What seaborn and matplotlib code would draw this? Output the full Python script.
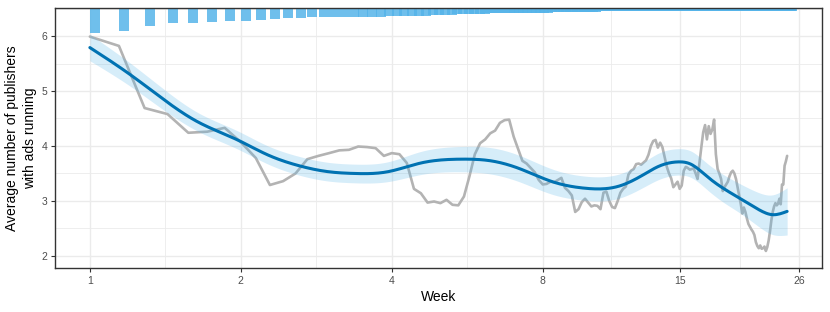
import numpy as np
import pandas as pd
import matplotlib
matplotlib.use("Agg")
import matplotlib.pyplot as plt
import seaborn as sns

# days since signup (7 = end of week 1)
day = list(range(7, 173))

avg_publishers = [
    5.99, 5.82, 4.69, 4.58, 4.24, 4.26, 4.33, 4.07, 3.78, 3.29,
    3.36, 3.50, 3.76, 3.82, 3.87, 3.92, 3.93, 3.99, 3.98, 3.96,
    3.82, 3.87, 3.85, 3.69, 3.22, 3.14, 2.97, 2.99, 2.96, 3.02,
    2.93, 2.92, 3.08, 3.45, 3.85, 4.05, 4.12, 4.23, 4.28, 4.42,
    4.47, 4.48, 4.17, 3.95, 3.73, 3.68, 3.60, 3.52, 3.38, 3.30,
    3.31, 3.35, 3.34, 3.38, 3.42, 3.24, 3.18, 3.10, 2.80, 2.85,
    2.98, 3.04, 2.97, 2.90, 2.92, 2.91, 2.85, 3.15, 3.17, 3.00,
    2.89, 2.87, 3.00, 3.15, 3.22, 3.26, 3.48, 3.55, 3.58, 3.67,
    3.68, 3.66, 3.70, 3.74, 3.84, 4.00, 4.09, 4.11, 3.97, 4.06,
    3.98, 3.80, 3.62, 3.50, 3.41, 3.25, 3.30, 3.35, 3.22, 3.28,
    3.55, 3.62, 3.60, 3.57, 3.58, 3.59, 3.50, 3.40, 3.70, 3.98,
    4.25, 4.38, 4.12, 4.36, 4.22, 4.30, 4.48, 3.85, 3.58, 3.50,
    3.40, 3.18, 3.25, 3.30, 3.35, 3.45, 3.52, 3.55, 3.50, 3.40,
    3.25, 3.10, 2.95, 2.77, 2.88, 2.80, 2.68, 2.58, 2.53, 2.48,
    2.44, 2.38, 2.25, 2.18, 2.14, 2.19, 2.13, 2.14, 2.17, 2.09,
    2.16, 2.28, 2.45, 2.65, 2.80, 2.90, 2.96, 2.92, 2.95, 3.04,
    2.94, 3.30, 3.30, 3.64, 3.72, 3.82,
]

# lower end of the bars hanging from the top of the panel
bar_low = [
    6.055, 6.096, 6.187, 6.231, 6.242, 6.255, 6.267, 6.273, 6.285, 6.309,
    6.322, 6.333, 6.340, 6.341, 6.343, 6.345, 6.348, 6.350, 6.352, 6.355,
    6.358, 6.360, 6.363, 6.366, 6.369, 6.373, 6.377, 6.381, 6.385, 6.390,
    6.395, 6.400, 6.403, 6.405, 6.407, 6.409, 6.410, 6.411, 6.412, 6.413,
    6.413, 6.414, 6.415, 6.416, 6.418, 6.420, 6.422, 6.424, 6.426, 6.428,
    6.430, 6.432, 6.434, 6.436, 6.438, 6.440, 6.441, 6.442, 6.443, 6.444,
    6.445, 6.445, 6.446, 6.446, 6.447, 6.447, 6.448, 6.448, 6.449, 6.449,
    6.450, 6.450, 6.451, 6.451, 6.452, 6.452, 6.453, 6.453, 6.454, 6.454,
    6.455, 6.455, 6.455, 6.455, 6.456, 6.456, 6.456, 6.456, 6.456, 6.456,
    6.457, 6.457, 6.457, 6.457, 6.457, 6.457, 6.457, 6.457, 6.458, 6.458,
    6.458, 6.458, 6.458, 6.458, 6.458, 6.458, 6.458, 6.458, 6.458, 6.458,
    6.459, 6.459, 6.459, 6.459, 6.459, 6.459, 6.459, 6.459, 6.459, 6.459,
    6.459, 6.459, 6.459, 6.459, 6.459, 6.459, 6.459, 6.459, 6.459, 6.459,
    6.460, 6.460, 6.460, 6.460, 6.460, 6.460, 6.460, 6.460, 6.460, 6.460,
    6.460, 6.460, 6.460, 6.460, 6.460, 6.460, 6.460, 6.460, 6.460, 6.460,
    6.460, 6.460, 6.460, 6.460, 6.460, 6.460, 6.460, 6.460, 6.460, 6.460,
    6.460, 6.460, 6.460, 6.460, 6.460, 6.460,
]

# smoothed trend (geom_smooth style) and half width of its 95% band
smooth_week = [1.0, 1.207, 1.406, 1.64, 1.97, 2.26, 2.59, 3.0, 3.36, 3.92, 4.57, 5.49, 6.30, 7.18,
               8.36, 9.75, 10.52, 11.36, 12.83, 13.55, 14.85, 15.78, 17.04, 18.11, 20.01, 21.59,
               22.96, 24.57]
smooth_fit = [5.79, 5.29, 4.84, 4.44, 4.11, 3.84, 3.65, 3.53, 3.50, 3.53, 3.69, 3.76, 3.73, 3.59,
              3.35, 3.23, 3.22, 3.27, 3.50, 3.62, 3.71, 3.67, 3.44, 3.26, 3.02, 2.84, 2.75, 2.81]
smooth_half = [0.24, 0.21, 0.19, 0.17, 0.165, 0.165, 0.17, 0.17, 0.17, 0.18, 0.21, 0.23, 0.24, 0.24,
               0.23, 0.22, 0.22, 0.22, 0.23, 0.24, 0.24, 0.24, 0.24, 0.25, 0.27, 0.31, 0.36, 0.43]

week_breaks = [1, 2, 4, 8, 15, 26]
y_breaks = [2, 3, 4, 5, 6]

df = pd.DataFrame({"day": day, "avg": avg_publishers, "bar_low": bar_low})
df["week"] = df["day"] / 7


def natural_spline(x, y, xg):
    # natural cubic spline, only used to draw the smooth between the readings
    x = np.asarray(x, float)
    y = np.asarray(y, float)
    n = len(x)
    h = np.diff(x)
    A = np.zeros((n, n))
    r = np.zeros(n)
    A[0, 0] = A[-1, -1] = 1
    for i in range(1, n - 1):
        A[i, i - 1] = h[i - 1]
        A[i, i] = 2 * (h[i - 1] + h[i])
        A[i, i + 1] = h[i]
        r[i] = 3 * ((y[i + 1] - y[i]) / h[i] - (y[i] - y[i - 1]) / h[i - 1])
    c = np.linalg.solve(A, r)
    b = (y[1:] - y[:-1]) / h - h * (2 * c[:-1] + c[1:]) / 3
    d = (c[1:] - c[:-1]) / (3 * h)
    k = np.clip(np.searchsorted(x, xg) - 1, 0, n - 2)
    dx = xg - x[k]
    return y[k] + b[k] * dx + c[k] * dx ** 2 + d[k] * dx ** 3


lw = np.log2(smooth_week)
grid = np.geomspace(smooth_week[0], smooth_week[-1], 400)
sm = pd.DataFrame({"week": grid, "fit": natural_spline(lw, smooth_fit, np.log2(grid))})
half = natural_spline(lw, smooth_half, np.log2(grid))
sm["lo"] = sm["fit"] - half
sm["hi"] = sm["fit"] + half

sns.set_theme(style="white")
plt.rcParams["font.family"] = ["Liberation Sans", "DejaVu Sans"]

fig = plt.figure(figsize=(8.3, 3.12), dpi=100)
ax = fig.add_axes([55 / 830, 1 - 268 / 312, 767 / 830, 260 / 312])
ax.set_xscale("log", base=2)

span = np.log2(df["week"].max() / df["week"].min())
ax.set_xlim(df["week"].min() * 2 ** (-0.05 * span), df["week"].max() * 2 ** (0.05 * span))
ax.set_ylim(1.78, 6.51)

ax.bar(df["week"], 1.0 - (df["bar_low"] - 6.0), bottom=df["bar_low"], width=df["week"] * 0.047,
       align="edge", color="#56B4E9", alpha=0.85, linewidth=0, zorder=2)

sns.lineplot(data=df, x="week", y="avg", color="#b3b3b3", linewidth=1.9, ax=ax, zorder=3)
ax.fill_between(sm["week"], sm["lo"], sm["hi"], color="#56B4E9", alpha=0.24, linewidth=0, zorder=4)
sns.lineplot(data=sm, x="week", y="fit", color="#0072B2", linewidth=2.2, ax=ax, zorder=5)

minor_x = np.sqrt(np.array(week_breaks[:-1]) * np.array(week_breaks[1:]))
ax.set_xticks(week_breaks)
ax.set_xticklabels([str(b) for b in week_breaks])
ax.set_xticks(minor_x, minor=True)
ax.set_yticks(y_breaks)
ax.set_yticks(np.array(y_breaks) + 0.5, minor=True)
ax.tick_params(axis="both", which="major", direction="out", length=3, width=0.8,
               color="#333333", labelcolor="#4d4d4d", labelsize=7.5, pad=2.5, bottom=True, left=True)
ax.tick_params(axis="both", which="minor", length=0, labelbottom=False)
ax.grid(which="major", color="#ebebeb", linewidth=1.0, zorder=0)
ax.grid(which="minor", color="#ebebeb", linewidth=0.6, zorder=0)
ax.set_axisbelow(True)
for sp in ax.spines.values():
    sp.set_color("#333333")
    sp.set_linewidth(1.0)

ax.set_xlabel("Week", fontsize=10, color="black", labelpad=3)
ax.set_ylabel("Average number of publishers\nwith ads running", fontsize=10, color="black",
              labelpad=3, linespacing=1.35)

fig.savefig("out.png", dpi=100)
